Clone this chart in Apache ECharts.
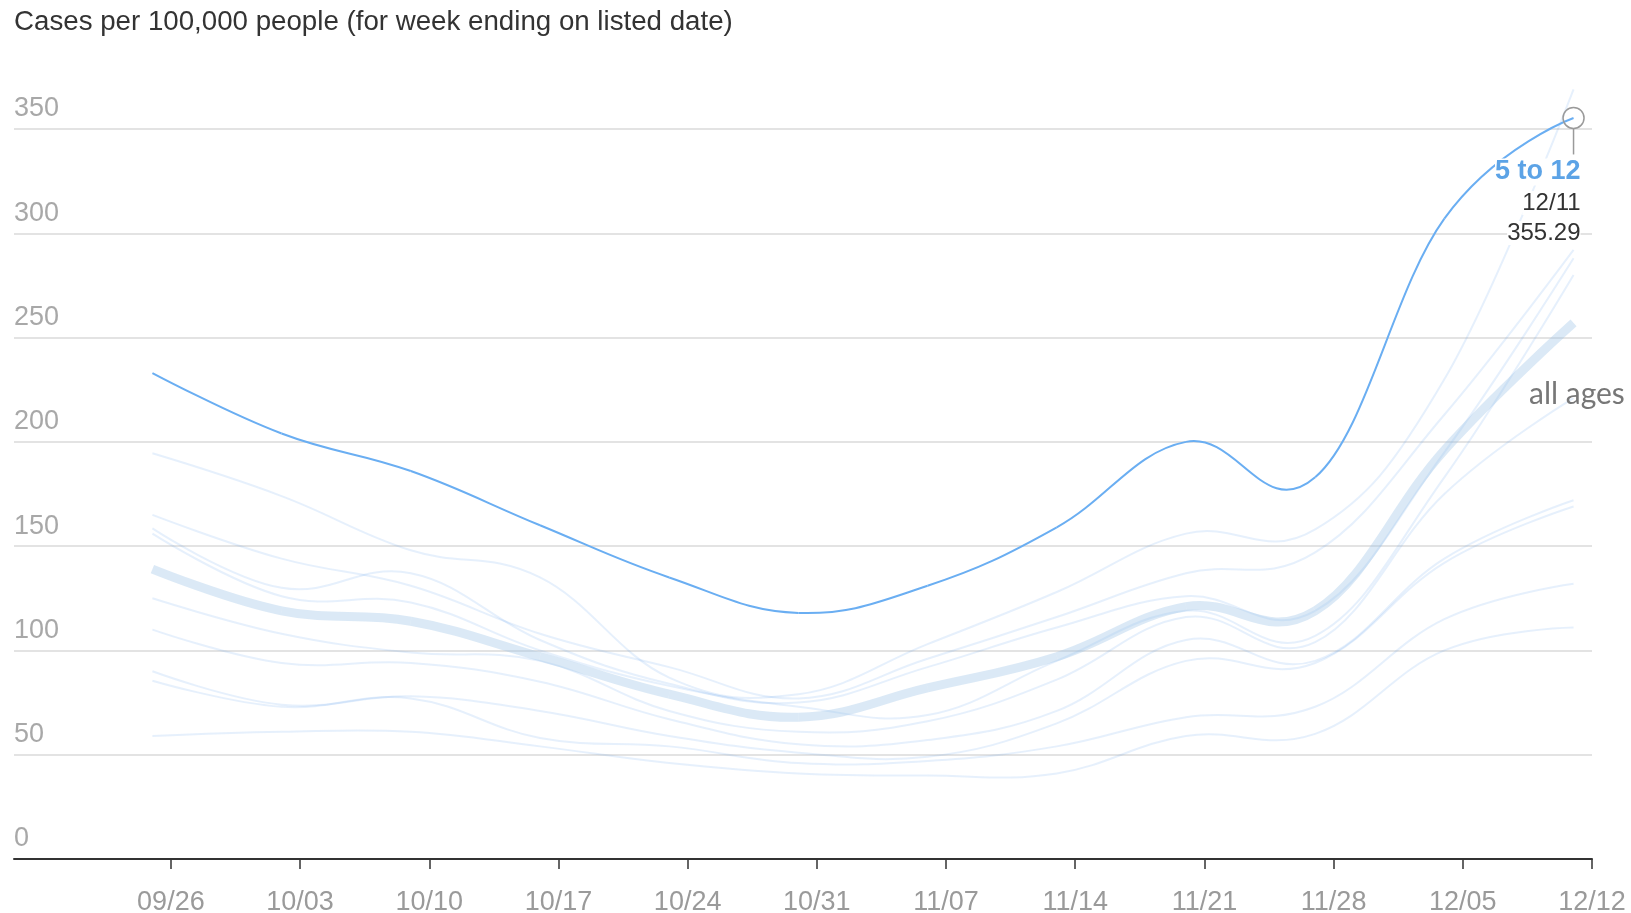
<!DOCTYPE html>
<html>
<head>
<meta charset="utf-8">
<script src="https://cdn.jsdelivr.net/npm/echarts@6/dist/echarts.min.js"></script>
<style>
  html, body { margin: 0; padding: 0; background: #fff; }
  #chart { width: 1631px; height: 913px; }
</style>
</head>
<body>
<div id="chart"></div>
<script>
// ---- data ----
const weekEnding = ['2021-09-25','2021-10-02','2021-10-09','2021-10-16','2021-10-23','2021-10-30',
                    '2021-11-06','2021-11-13','2021-11-20','2021-11-27','2021-12-04','2021-12-11'];
const tickDates  = ['2021-09-26','2021-10-03','2021-10-10','2021-10-17','2021-10-24','2021-10-31',
                    '2021-11-07','2021-11-14','2021-11-21','2021-11-28','2021-12-05','2021-12-12'];
const yTicks = [0, 50, 100, 150, 200, 250, 300, 350];

const highlightName = '5 to 12';
const ages5to12 = [233, 204, 186, 160, 135, 118, 131, 159, 200, 183, 307, 355.29];
const allAges   = [139, 119, 114, 97, 79, 68, 82, 97, 121, 119, 196, 257];

const groupA = [194.5, 174, 148, 135, 87, 79, 103, 128, 156, 158, 230, 369];
const groupB = [165, 144, 131, 108, 92, 77, 96, 116, 137, 147, 213, 292];
const groupC = [158.5, 130, 137, 105, 84, 75, 92, 111, 126, 119, 195, 288];
const groupD = [156, 126, 123, 100, 83, 73, 69, 95, 119, 107, 183, 280];
const groupE = [125, 108, 99, 95, 71, 61, 66, 86, 116, 104, 175, 221];
const groupF = [110, 94, 94, 85, 67, 55, 57, 71, 105, 95, 144, 172];
const groupG = [90, 74, 78, 71, 59, 51, 49, 65, 95, 94, 142, 169];
const groupH = [85.5, 73, 77, 58, 54, 46, 47, 54, 68, 73, 115, 132];
const groupI = [59, 61, 61, 54, 46, 41, 40, 41, 59, 60, 100, 111];
const otherGroups = [groupA, groupB, groupC, groupD, groupE, groupF, groupG, groupH, groupI];
const otherNames  = ['0 to 4','13 to 17','18 to 24','25 to 34','35 to 44','45 to 54','55 to 64','65 to 74','75+'];

// ---- helpers ----
function toTime(s) { const p = s.split('-').map(Number); return new Date(p[0], p[1] - 1, p[2]).getTime(); }
function pad(n) { return (n < 10 ? '0' : '') + n; }
function mmdd(t) { const d = new Date(t); return pad(d.getMonth() + 1) + '/' + pad(d.getDate()); }
function pairs(arr) { return weekEnding.map((w, i) => [toTime(w), arr[i]]); }

const FONT = "'Liberation Sans', Arial, sans-serif";
const tickTimes = tickDates.map(toTime);
const xMax = toTime('2021-12-12');
const xMin = new Date(2021, 8, 17, 12).getTime();
const CURVE_K = 0.2; // cardinal spline control-point factor

// cardinal spline segment between point i and i+1, in pixel space from the axes
function segmentShape(api, pts, i) {
  const n = pts.length;
  const c = (j) => api.coord(pts[j]);
  const p1 = c(i), p2 = c(i + 1);
  const p0 = i === 0 ? null : c(i - 1);
  const p3 = i + 2 > n - 1 ? null : c(i + 2);
  const k = CURVE_K;
  const cp1 = p0 ? [p1[0] + k * (p2[0] - p0[0]), p1[1] + k * (p2[1] - p0[1])] : [p1[0], p1[1]];
  const cp2 = p3 ? [p2[0] - k * (p3[0] - p1[0]), p2[1] - k * (p3[1] - p1[1])] : [p2[0], p2[1]];
  return { x1: p1[0], y1: p1[1], x2: p2[0], y2: p2[1], cpx1: cp1[0], cpy1: cp1[1], cpx2: cp2[0], cpy2: cp2[1] };
}

function splineSeries(name, values, color, width, z, annotate) {
  const pts = pairs(values);
  return {
    name: name, type: 'custom', z: z, silent: true, clip: false,
    data: pts, encode: { x: 0, y: 1 },
    renderItem: function (params, api) {
      const i = params.dataIndex;
      if (i < pts.length - 1) {
        return { type: 'bezierCurve', shape: segmentShape(api, pts, i),
                 style: { stroke: color, lineWidth: width, fill: null, lineCap: 'butt' } };
      }
      if (!annotate) return null;
      const p = api.coord(pts[i]);
      const r = 10.5;
      return {
        type: 'group', children: [
          { type: 'circle', shape: { cx: p[0], cy: p[1], r: r },
            style: { fill: 'rgba(255,255,255,0)', stroke: '#9a9a9a', lineWidth: 1.5 } },
          { type: 'line', shape: { x1: p[0], y1: p[1] + r, x2: p[0], y2: p[1] + r + 26 },
            style: { stroke: '#9a9a9a', lineWidth: 1.5 } },
          { type: 'text', x: p[0] + 7, y: p[1] + 38, z2: 10,
            style: {
              text: '{a|' + name + '}\n{b|' + mmdd(pts[i][0]) + '}\n{b|' + pts[i][1].toFixed(2) + '}',
              align: 'right', verticalAlign: 'top',
              rich: {
                a: { fontSize: 27, fontWeight: 'bold', fill: '#5ca3e6', lineHeight: 32, fontFamily: FONT, align: 'right', backgroundColor: '#fff' },
                b: { fontSize: 24, fill: '#333', lineHeight: 30, fontFamily: FONT, align: 'right', backgroundColor: '#fff' }
              }
            } }
        ]
      };
    }
  };
}

const series = [];
otherGroups.forEach((g, i) => series.push(splineSeries(otherNames[i], g, 'rgba(100,160,235,0.16)', 2, 2, false)));
series.push(splineSeries('all ages', allAges, 'rgba(160,196,232,0.38)', 9, 3, false));
series.push(splineSeries(highlightName, ages5to12, '#6aaef2', 2, 5, true));

const chart = echarts.init(document.getElementById('chart'), null, { renderer: 'canvas' });
chart.setOption({
  animation: false,
  backgroundColor: '#fff',
  title: {
    text: 'Cases per 100,000 people (for week ending on listed date)',
    left: 14, top: 8, padding: 0,
    textStyle: { fontSize: 27.7, fontWeight: 'normal', color: '#333', fontFamily: FONT }
  },
  grid: { left: 14, right: 39, top: 129, bottom: 54, containLabel: false, outerBoundsMode: 'none' },
  xAxis: {
    type: 'value', min: xMin, max: xMax, scale: true,
    axisLine: { show: true, onZero: false, lineStyle: { color: '#333', width: 2 } },
    axisTick: { show: true, length: 10, customValues: tickTimes, lineStyle: { color: '#333', width: 1.5 } },
    axisLabel: { customValues: tickTimes, formatter: (v) => mmdd(v), margin: 30, fontSize: 27, color: '#9a9a9a', fontFamily: FONT, showMinLabel: true, showMaxLabel: true },
    splitLine: { show: false }
  },
  yAxis: {
    type: 'value', min: yTicks[0], max: yTicks[yTicks.length - 1], interval: 50,
    axisLine: { show: false }, axisTick: { show: false },
    axisLabel: { inside: true, margin: 0, fontSize: 27, color: '#a8a8a8', fontFamily: FONT, verticalAlign: 'bottom', lineHeight: 40 },
    splitLine: { show: true, lineStyle: { color: '#e3e3e3', width: 2 } }
  },
  graphic: [{
    type: 'text', x: 1529, y: 394, z: 10,
    style: { text: 'all ages', font: "30px Lato, 'Open Sans', sans-serif", fill: '#777', align: 'left', verticalAlign: 'middle' }
  }],
  series: series
});
</script>
</body>
</html>
